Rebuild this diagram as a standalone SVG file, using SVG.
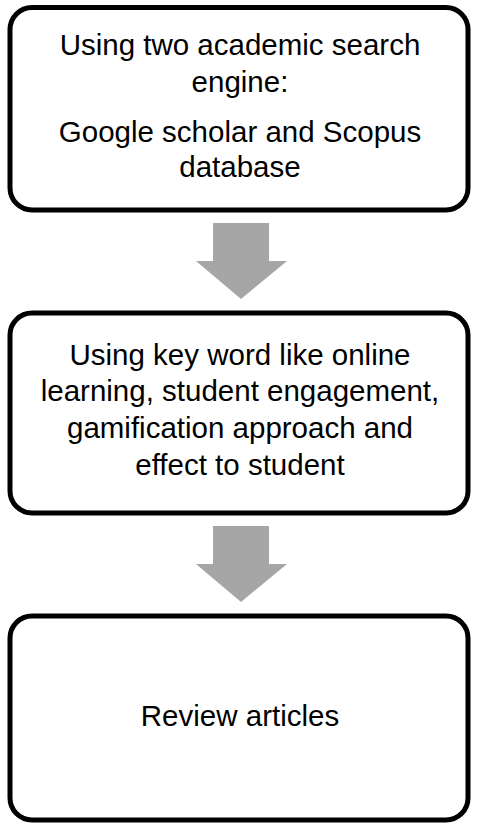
<svg xmlns="http://www.w3.org/2000/svg" width="478" height="826" viewBox="0 0 478 826">
<style>
.box{fill:#fff;stroke:#000;stroke-width:5}
.t{font-family:"Liberation Sans",Arial,sans-serif;font-size:29.5px;fill:#000;text-anchor:middle}
.arr{fill:#a6a6a6}
</style>
<rect width="478" height="826" fill="#fff"/>
<g id="connectors">
<polygon class="arr" points="213,223 269,223 269,261 287,261 241,299 196,261 213,261"/>
<polygon class="arr" points="213,526 269,526 269,564 287,564 241,602 196,564 213,564"/>
</g>
<g id="node1">
<rect class="box" x="10" y="7.5" width="458" height="202.5" rx="22"/>
<text class="t" x="240" y="55">Using two academic search</text>
<text class="t" x="240" y="92">engine:</text>
<text class="t" x="240" y="142">Google scholar and Scopus</text>
<text class="t" x="240" y="177">database</text>
</g>
<g id="node2">
<rect class="box" x="10" y="313" width="458" height="200" rx="22"/>
<text class="t" x="240" y="365">Using key word like online</text>
<text class="t" x="240" y="401">learning, student engagement,</text>
<text class="t" x="240" y="438">gamification approach and</text>
<text class="t" x="240" y="475">effect to student</text>
</g>
<g id="node3">
<rect class="box" x="10" y="616" width="458" height="204" rx="22"/>
<text class="t" x="240" y="726">Review articles</text>
</g>
</svg>
